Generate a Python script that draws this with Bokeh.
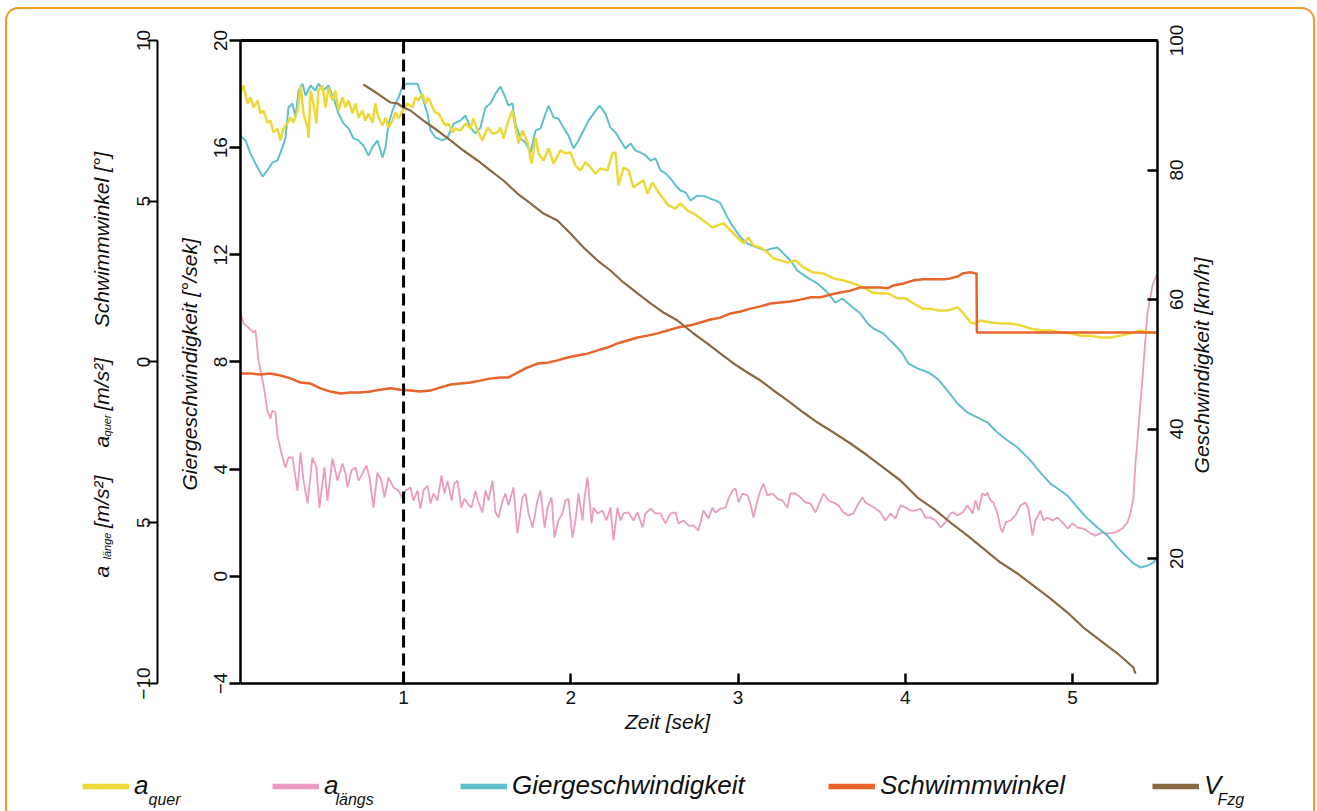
import math
from bokeh.plotting import figure
from bokeh.models import Range1d, LinearAxis, FixedTicker, Label, Legend, LegendItem
from bokeh.embed import file_html
from bokeh.resources import INLINE

# ---------------- data ----------------
T_START, T_END = 0.025, 5.508          # time span of the plot box [sek]
GIER_MIN, GIER_MAX = -4, 20            # Giergeschwindigkeit axis span
OUTER_MIN, OUTER_MAX = -10, 10         # Schwimmwinkel / a axis span
SPEED_MIN, SPEED_MAX = 0.7, 100        # Geschwindigkeit axis span
X_TICKS = [1, 2, 3, 4, 5]
GIER_TICKS = [-4, 0, 4, 8, 12, 16, 20]
OUTER_TICKS = [-10, -5, 0, 5, 10]
OUTER_LABELS = {-5: "5"}
SPEED_TICKS = [20, 40, 60, 80, 100]
EVENT_T = 1.0

# Giergeschwindigkeit [°/sek]
T_GIER = [0.025,0.055,0.085,0.127,0.157,0.186,0.216,0.246,0.276,0.294,0.312,0.336,0.354,0.372,0.396,0.414,0.444,0.473,0.491,0.521,
          0.551,0.581,0.611,0.641,0.671,0.701,0.731,0.760,0.790,0.814,0.844,0.874,0.892,0.910,0.940,0.970,0.994,1.023,1.065,1.083,
          1.113,1.143,1.161,1.191,1.233,1.263,1.299,1.340,1.370,1.400,1.430,1.460,1.490,1.520,1.550,1.580,1.609,1.627,1.651,1.669,
          1.699,1.729,1.759,1.789,1.819,1.849,1.867,1.897,1.926,1.956,1.986,2.016,2.046,2.076,2.106,2.136,2.172,2.207,2.237,2.267,
          2.297,2.327,2.357,2.387,2.417,2.447,2.477,2.506,2.536,2.566,2.596,2.626,2.656,2.686,2.716,2.757,2.805,2.835,2.865,2.895,
          2.937,2.973,3.015,3.056,3.116,3.164,3.206,3.236,3.272,3.313,3.355,3.415,3.475,3.535,3.582,3.624,3.672,3.732,3.774,3.810,
          3.869,3.929,3.983,4.019,4.073,4.138,4.192,4.252,4.312,4.372,4.431,4.491,4.551,4.611,4.671,4.749,4.808,4.868,4.910,4.970,
          5.029,5.089,5.149,5.209,5.269,5.328,5.364,5.406,5.448,5.484,5.508]
GIER = [16.45,16.27,15.78,15.26,14.92,15.15,15.45,15.52,16.01,16.38,17.50,17.65,17.13,18.13,18.39,17.95,18.32,18.13,18.39,18.13,
        18.32,17.87,17.27,16.90,16.72,16.34,16.27,16.08,15.71,16.01,16.27,15.63,16.01,16.90,17.50,17.87,18.32,18.39,18.39,18.39,
        17.87,17.27,16.64,16.38,16.27,16.38,16.90,17.01,17.20,16.75,16.53,16.75,17.50,17.65,18.02,18.28,17.87,17.57,17.65,16.90,
        16.34,16.19,15.82,16.64,16.72,17.27,17.57,17.13,17.09,16.75,16.45,15.97,16.27,16.64,17.01,17.27,17.57,17.27,16.75,16.57,
        16.27,15.97,16.16,15.89,15.82,15.71,15.52,15.60,15.15,15.04,14.85,14.59,14.40,14.33,14.03,14.21,14.18,14.10,14.03,13.92,
        13.39,13.02,12.65,12.42,12.27,12.16,12.24,12.27,12.05,11.79,11.41,11.15,10.93,10.59,10.22,10.37,10.11,9.81,9.44,9.25,
        9.06,8.69,8.32,7.94,7.76,7.61,7.38,6.93,6.45,6.11,5.93,5.74,5.37,5.07,4.81,4.32,3.87,3.46,3.28,3.01,
        2.57,2.16,1.82,1.52,1.07,0.70,0.48,0.33,0.40,0.51,0.70]

# a_quer [m/s²]
T_QUER = [0.025,0.043,0.067,0.085,0.103,0.127,0.145,0.163,0.186,0.204,0.222,0.246,0.264,0.282,0.306,0.324,0.342,0.366,0.384,0.402,
          0.426,0.432,0.444,0.461,0.479,0.491,0.515,0.533,0.551,0.575,0.593,0.611,0.635,0.653,0.671,0.695,0.713,0.731,0.754,0.772,
          0.790,0.814,0.832,0.850,0.874,0.892,0.910,0.934,0.952,0.970,0.994,1.023,1.053,1.071,1.089,1.113,1.131,1.149,1.173,1.191,
          1.209,1.233,1.251,1.269,1.293,1.310,1.340,1.370,1.400,1.418,1.442,1.472,1.502,1.532,1.562,1.580,1.597,1.627,1.651,1.669,
          1.687,1.711,1.741,1.765,1.789,1.807,1.837,1.867,1.897,1.938,1.968,1.998,2.028,2.058,2.088,2.118,2.148,2.177,2.219,2.249,
          2.267,2.285,2.315,2.345,2.375,2.405,2.435,2.458,2.488,2.518,2.548,2.584,2.626,2.656,2.698,2.734,2.775,2.817,2.847,2.877,
          2.913,2.955,2.997,3.032,3.062,3.092,3.134,3.176,3.212,3.254,3.295,3.343,3.391,3.451,3.511,3.571,3.630,3.690,3.750,3.804,
          3.852,3.899,3.953,4.001,4.049,4.103,4.151,4.198,4.252,4.312,4.348,4.390,4.420,4.449,4.509,4.569,4.629,4.689,4.749,4.808,
          4.868,4.928,4.988,5.047,5.107,5.167,5.227,5.287,5.346,5.406,5.466,5.508]
A_QUER = [8.38,8.60,8.04,8.23,7.92,8.13,7.73,7.82,7.45,7.51,7.14,7.26,6.89,7.26,7.42,7.60,7.45,7.82,8.60,7.73,
          7.29,6.98,8.44,8.04,7.42,8.44,8.60,7.92,8.54,8.13,8.44,7.82,8.23,7.92,8.13,7.73,8.04,7.60,7.82,7.51,
          7.73,7.45,8.04,7.60,7.36,7.60,7.29,7.51,7.76,7.57,7.82,8.04,7.92,8.23,8.13,8.35,8.04,8.23,7.92,7.76,
          7.73,7.51,7.36,7.42,7.14,7.26,7.20,7.42,7.26,7.57,7.20,6.89,7.29,7.11,7.14,7.29,6.95,7.51,7.82,7.29,
          6.80,7.20,6.83,6.17,6.98,6.49,6.27,6.64,6.17,6.58,6.49,6.52,6.11,5.96,6.21,6.05,5.86,6.02,5.96,6.49,
          6.52,5.49,6.05,5.96,5.43,5.55,5.65,5.24,5.58,5.33,5.12,4.87,4.77,4.93,4.71,4.62,4.46,4.31,4.18,4.25,
          4.31,4.09,3.87,3.69,3.87,3.62,3.56,3.41,3.22,3.16,3.09,3.16,2.94,2.78,2.75,2.60,2.54,2.44,2.32,2.16,
          2.13,2.13,1.98,1.98,1.82,1.66,1.66,1.60,1.60,1.70,1.51,1.23,1.20,1.29,1.23,1.20,1.20,1.14,1.04,0.98,
          0.98,0.92,0.89,0.82,0.82,0.76,0.76,0.82,0.89,0.98,0.92,0.89]

# a_längs [m/s²]
T_LAENGS = [0.025,0.043,0.073,0.103,0.115,0.133,0.163,0.186,0.204,0.216,0.234,0.246,0.276,0.294,0.312,0.336,0.366,0.384,0.402,0.426,
            0.455,0.479,0.497,0.527,0.545,0.575,0.605,0.635,0.653,0.665,0.689,0.713,0.731,0.754,0.778,0.796,0.820,0.844,0.868,0.886,
            0.910,0.940,0.970,0.994,1.012,1.041,1.059,1.083,1.101,1.119,1.143,1.161,1.179,1.203,1.227,1.245,1.263,1.287,1.304,1.322,
            1.346,1.364,1.382,1.406,1.430,1.448,1.472,1.490,1.508,1.532,1.550,1.568,1.592,1.609,1.627,1.657,1.681,1.711,1.729,1.747,
            1.771,1.801,1.819,1.843,1.861,1.885,1.902,1.926,1.950,1.968,1.986,2.010,2.028,2.046,2.070,2.082,2.100,2.124,2.136,2.160,
            2.189,2.213,2.237,2.255,2.279,2.297,2.315,2.345,2.375,2.399,2.429,2.447,2.477,2.506,2.536,2.566,2.596,2.626,2.644,2.674,
            2.704,2.734,2.763,2.793,2.823,2.847,2.865,2.895,2.925,2.943,2.967,2.985,3.003,3.026,3.056,3.074,3.092,3.116,3.134,3.152,
            3.176,3.206,3.236,3.266,3.295,3.313,3.343,3.373,3.403,3.433,3.463,3.493,3.511,3.541,3.571,3.600,3.630,3.660,3.690,3.720,
            3.744,3.762,3.792,3.822,3.852,3.881,3.911,3.941,3.971,4.001,4.031,4.061,4.091,4.121,4.151,4.180,4.210,4.240,4.270,4.288,
            4.312,4.342,4.372,4.402,4.420,4.438,4.461,4.479,4.491,4.509,4.527,4.551,4.569,4.581,4.599,4.629,4.659,4.689,4.719,4.736,
            4.760,4.778,4.808,4.826,4.850,4.880,4.910,4.940,4.970,5.000,5.029,5.065,5.107,5.137,5.179,5.215,5.257,5.298,5.328,5.346,
            5.364,5.376,5.388,5.418,5.448,5.478,5.508]
A_LAENGS = [1.54,1.20,1.07,0.92,0.98,0.05,-0.73,-1.51,-1.76,-1.51,-1.57,-2.29,-2.97,-3.28,-2.97,-2.97,-4.00,-2.81,-3.69,-4.40,
            -2.97,-3.28,-4.53,-3.28,-4.31,-3.00,-3.69,-3.16,-3.47,-3.90,-3.37,-3.28,-3.69,-3.47,-3.22,-3.59,-4.53,-3.44,-3.69,-4.21,
            -3.59,-3.90,-4.00,-4.25,-4.00,-3.90,-4.31,-4.00,-4.56,-4.00,-3.84,-4.40,-4.09,-4.31,-3.53,-4.09,-3.69,-4.31,-3.78,-3.69,
            -4.53,-4.25,-4.40,-4.53,-4.00,-4.37,-4.68,-4.00,-4.31,-3.69,-4.68,-4.84,-4.31,-4.09,-4.46,-3.90,-5.33,-4.21,-4.09,-4.71,
            -5.15,-4.31,-4.00,-5.15,-4.53,-4.21,-5.46,-4.93,-4.71,-4.31,-4.25,-5.46,-4.93,-4.09,-4.93,-4.21,-3.59,-5.02,-4.53,-4.71,
            -4.62,-4.93,-4.53,-5.55,-4.53,-4.93,-4.71,-4.68,-4.93,-4.68,-5.15,-4.71,-4.56,-4.71,-4.71,-5.02,-4.71,-4.68,-5.02,-4.93,
            -5.09,-5.09,-5.24,-4.62,-4.87,-4.53,-4.68,-4.56,-4.53,-4.25,-4.00,-3.93,-4.37,-4.09,-4.15,-4.40,-4.84,-4.31,-4.00,-3.78,
            -4.15,-4.09,-4.25,-4.31,-4.53,-4.09,-4.09,-4.21,-4.37,-4.40,-4.68,-4.31,-4.09,-4.31,-4.37,-4.46,-4.68,-4.77,-4.71,-4.40,
            -4.21,-4.37,-4.46,-4.56,-4.68,-4.93,-4.71,-4.87,-4.46,-4.53,-4.62,-4.62,-4.56,-4.84,-4.84,-4.93,-5.15,-4.99,-4.71,-4.68,
            -4.77,-4.68,-4.46,-4.71,-4.31,-4.62,-4.09,-4.15,-4.06,-4.31,-4.37,-4.71,-5.15,-5.30,-4.99,-4.93,-4.77,-4.46,-4.37,-4.56,
            -5.40,-4.93,-4.62,-4.93,-4.84,-4.93,-4.84,-4.99,-5.18,-5.02,-5.15,-5.18,-5.33,-5.40,-5.30,-5.33,-5.30,-5.18,-4.99,-4.71,
            -4.21,-3.16,-2.44,-0.51,1.54,2.38,2.78]

# Schwimmwinkel [°]
T_SW = [0.025,0.085,0.145,0.204,0.264,0.324,0.384,0.444,0.503,0.563,0.623,0.683,0.742,0.802,0.862,0.922,0.982,1.041,1.101,1.161,
        1.221,1.281,1.340,1.400,1.460,1.520,1.580,1.627,1.681,1.741,1.801,1.861,1.920,1.980,2.040,2.100,2.160,2.219,2.279,2.339,
        2.399,2.458,2.518,2.578,2.638,2.716,2.775,2.835,2.895,2.955,3.015,3.074,3.134,3.194,3.254,3.313,3.373,3.433,3.493,3.553,
        3.612,3.672,3.732,3.792,3.852,3.893,3.929,3.989,4.049,4.109,4.168,4.228,4.270,4.312,4.342,4.372,4.402,4.420,4.426,4.428,
        5.508]
SW = [-0.36,-0.36,-0.39,-0.36,-0.42,-0.51,-0.64,-0.67,-0.82,-0.92,-0.98,-0.95,-0.95,-0.92,-0.86,-0.82,-0.86,-0.89,-0.92,-0.89,
      -0.79,-0.70,-0.67,-0.64,-0.58,-0.51,-0.48,-0.48,-0.33,-0.17,-0.05,-0.02,0.05,0.14,0.20,0.26,0.36,0.45,0.58,0.67,
      0.76,0.82,0.89,0.98,1.07,1.14,1.23,1.32,1.38,1.51,1.57,1.66,1.73,1.82,1.85,1.88,1.94,2.01,2.01,2.10,
      2.16,2.22,2.32,2.32,2.32,2.29,2.38,2.44,2.54,2.57,2.57,2.57,2.60,2.66,2.75,2.78,2.78,2.75,2.75,0.92,
      0.92]

# V_Fzg [km/h]
T_V = [0.760,0.844,0.922,0.964,0.999,1.041,1.119,1.203,1.281,1.358,1.442,1.520,1.597,1.681,1.759,1.837,1.920,1.998,2.076,2.160,
       2.237,2.315,2.399,2.477,2.554,2.638,2.734,2.817,2.895,2.973,3.056,3.134,3.212,3.295,3.391,3.475,3.571,3.672,3.774,3.869,
       3.971,4.073,4.168,4.270,4.372,4.467,4.569,4.671,4.766,4.868,4.970,5.065,5.167,5.269,5.364,5.376]
V = [93.20,91.81,90.42,90.27,89.65,89.19,87.64,86.10,84.56,83.01,81.47,79.92,78.38,76.37,74.83,73.28,72.20,70.19,68.03,66.02,
     64.48,62.63,60.93,59.39,57.99,56.76,54.75,53.20,51.66,50.12,48.73,47.49,45.95,44.41,42.55,41.00,39.46,37.76,35.91,34.05,
     32.05,29.42,27.72,25.56,23.55,21.54,19.38,17.68,15.83,13.82,11.66,9.34,7.34,5.33,3.17,2.24]

for a, b in [(T_GIER, GIER), (T_QUER, A_QUER), (T_LAENGS, A_LAENGS), (T_SW, SW), (T_V, V)]:
    assert len(a) == len(b), (len(a), len(b))

YELLOW = "#EDD83A"
PINK = "#E99BC2"
TEAL = "#5FC0CC"
ORANGE = "#E8642A"
BROWN = "#8A6A44"
FRAME = "#F39A2B"
INK = "#111111"
FONT = "Liberation Sans"

# ---------------- figure: the frame covers the whole canvas, axes are fixed inside it ----------------
W, H = 1310, 804
p = figure(width=W, height=H, output_backend="svg", toolbar_location=None,
           x_range=Range1d(-1.380, 6.4525), y_range=Range1d(-8.778, 21.232),
           x_axis_location=None, y_axis_location=None, min_border=0)
p.extra_y_ranges = {"outer": Range1d(-13.981, 11.026), "speed": Range1d(-19.067, 105.096)}
p.grid.visible = False
p.background_fill_color = None
p.border_fill_color = None
p.outline_line_color = None
p.styles = {
    "margin-left": "5px",
    "margin-top": "7px",
    "box-shadow": f"inset 2px 0 0 0 {FRAME}, inset -2px 0 0 0 {FRAME}, inset 0 2px 0 0 {FRAME}",
    "border-radius": "14px 14px 0 0",
}


def style_axis(ax, lw=2.5):
    ax.axis_line_color = "black"
    ax.axis_line_width = lw
    ax.major_tick_line_color = "black"
    ax.major_tick_line_width = lw
    ax.minor_tick_line_color = None
    ax.major_label_text_font = FONT
    ax.major_label_text_font_size = "19px"
    ax.major_label_text_color = INK


OUTER_AXIS_T = -0.471   # time coordinate where the outer left axis is drawn
SPEED_LABEL_T = 5.619   # time coordinate of the centre line of the speed tick labels

xa = LinearAxis(fixed_location=GIER_MIN, bounds=(T_START, T_END), ticker=FixedTicker(ticks=X_TICKS),
                major_tick_in=10, major_tick_out=0, major_label_standoff=8)
style_axis(xa)
p.add_layout(xa, "below")

top = LinearAxis(fixed_location=GIER_MAX, bounds=(T_START, T_END), ticker=FixedTicker(ticks=[]))
style_axis(top, lw=3)
p.add_layout(top, "above")

ga = LinearAxis(fixed_location=T_START, bounds=(GIER_MIN, GIER_MAX), ticker=FixedTicker(ticks=GIER_TICKS),
                major_tick_out=11, major_tick_in=0, major_label_standoff=2,
                major_label_orientation="vertical")
style_axis(ga)
p.add_layout(ga, "left")

oa = LinearAxis(y_range_name="outer", fixed_location=OUTER_AXIS_T, bounds=(OUTER_MIN, OUTER_MAX),
                ticker=FixedTicker(ticks=OUTER_TICKS), major_tick_out=10, major_tick_in=0,
                major_label_standoff=-2, major_label_orientation="vertical",
                major_label_overrides=OUTER_LABELS)
style_axis(oa, lw=2)
p.add_layout(oa, "left")

ra = LinearAxis(y_range_name="speed", fixed_location=T_END, bounds=(SPEED_MIN, SPEED_MAX),
                ticker=FixedTicker(ticks=SPEED_TICKS), major_tick_in=10, major_tick_out=0,
                major_label_overrides={v: "" for v in SPEED_TICKS})
style_axis(ra)
p.add_layout(ra, "right")

# ---------------- series ----------------
p.line(T_LAENGS, A_LAENGS, y_range_name="outer", line_color=PINK, line_width=1.8)
p.line(T_GIER, GIER, line_color=TEAL, line_width=2)
p.line(T_QUER, A_QUER, y_range_name="outer", line_color=YELLOW, line_width=2.5)
p.line(T_SW, SW, y_range_name="outer", line_color=ORANGE, line_width=2.5)
p.line(T_V, V, y_range_name="speed", line_color=BROWN, line_width=2.2)

p.segment(x0=[EVENT_T], y0=[GIER_MIN], x1=[EVENT_T], y1=[GIER_MAX], line_color="black",
          line_width=3, line_dash="12 6")


# ---------------- texts ----------------
def label(x, y, text, size, angle=0.0, align="center", baseline="alphabetic", italic=True,
          y_range_name="default"):
    p.add_layout(Label(x=x, y=y, text=text, angle=angle, text_align=align, text_baseline=baseline,
                       text_font=FONT, text_font_size=size,
                       text_font_style="italic" if italic else "normal",
                       text_color=INK, y_range_name=y_range_name))


R = math.pi / 2
# speed tick labels (read bottom-to-top, centred on their ticks)
for v in SPEED_TICKS:
    label(SPEED_LABEL_T, v, str(v), "19px", angle=R, baseline="middle", italic=False,
          y_range_name="speed")

label(2.578, -5.43, "Zeit [sek]", "21px")
label(-0.280, 7.91, "Giergeschwindigkeit [°/sek]", "21px", angle=R)
label(5.771, 7.87, "Geschwindigkeit [km/h]", "21px", angle=R)
label(-0.806, 12.57, "Schwimmwinkel [°]", "21px", angle=R)
label(-0.806, 4.81, "a", "21px", angle=R, align="left")
label(-0.776, 5.22, "quer", "11px", angle=R, align="left")
label(-0.806, 6.19, "[m/s²]", "21px", angle=R, align="left")
label(-0.806, -0.04, "a", "21px", angle=R, align="left")
label(-0.776, 0.63, "länge", "11px", angle=R, align="left")
label(-0.806, 1.80, "[m/s²]", "21px", angle=R, align="left")

# ---------------- legend ----------------
LEGEND = [("a", YELLOW, 77), ("a", PINK, 267), ("Giergeschwindigkeit", TEAL, 455),
          ("Schwimmwinkel", ORANGE, 823), ("V", BROWN, 1147)]
for text, color, sx in LEGEND:
    r = p.line([T_START], [math.nan], line_color=color, line_width=5.5)
    lg = Legend(items=[LegendItem(label=text, renderers=[r])], location=(sx, 10),
                orientation="horizontal", glyph_width=47, glyph_height=30, label_height=30,
                label_standoff=5, padding=0, margin=0, spacing=0,
                border_line_color=None, background_fill_alpha=0,
                label_text_font=FONT, label_text_font_style="italic", label_text_font_size="26px",
                label_text_color=INK)
    p.add_layout(lg)

label(-0.525, -8.33, "quer", "16px", align="left")
label(0.593, -8.33, "längs", "16px", align="left")
label(5.867, -8.33, "Fzg", "16px", align="left")

open("out.html", "w").write(file_html(p, INLINE))
